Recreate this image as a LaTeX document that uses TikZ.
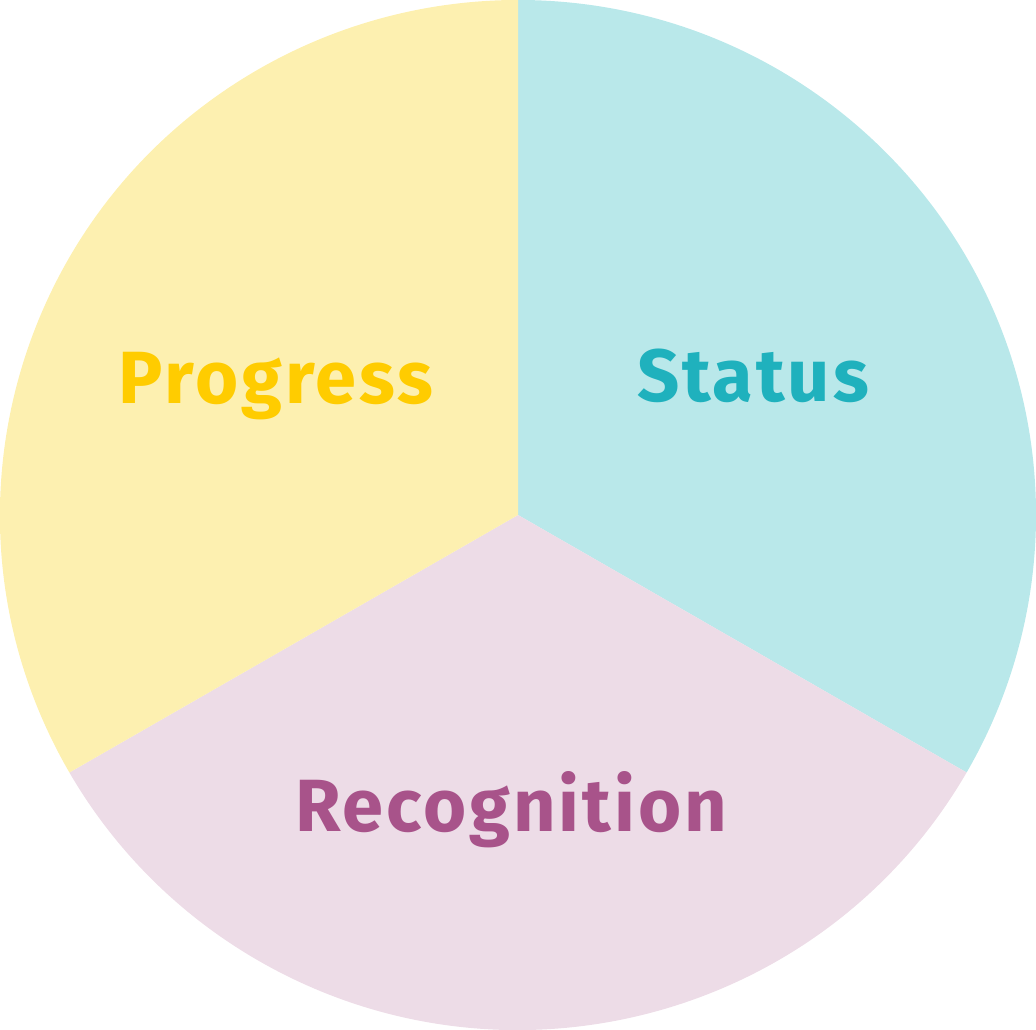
\documentclass[tikz,border=0pt]{standalone}
\usepackage{fontspec}
\newfontfamily\lblfont[LetterSpace=4]{Fira Sans}
\definecolor{statusfill}{HTML}{B9E8EA}
\definecolor{statustext}{HTML}{1FB1BD}
\definecolor{progfill}{HTML}{FDF0B0}
\definecolor{progtext}{HTML}{FFCC00}
\definecolor{recfill}{HTML}{EDDCE7}
\definecolor{rectext}{HTML}{A8538A}
\begin{document}
\begin{tikzpicture}[x=1pt,y=1pt,
  lbl/.style={font=\lblfont\bfseries\fontsize{74}{80}\selectfont, inner sep=0pt, anchor=base}]
\useasboundingbox (0,0) rectangle (1036,1030);
\coordinate (c) at (518,515);
\coordinate (top) at (518,1030);
\coordinate (rt) at (966.6,257.5);
\coordinate (lt) at (69.4,257.5);
\fill[statusfill] (c) -- (top) arc[start angle=90, end angle=-30, x radius=518, y radius=515] -- cycle;
\fill[recfill] (c) -- (rt) arc[start angle=-30, end angle=-150, x radius=518, y radius=515] -- cycle;
\fill[progfill] (c) -- (lt) arc[start angle=210, end angle=90, x radius=518, y radius=515] -- cycle;
\node[lbl, text=statustext] (status) at (753,628) {Status};
\node[lbl, text=progtext] (progress) at (276,626) {Progress};
\node[lbl, text=rectext] (recognition) at (511,198) {Recognition};
\end{tikzpicture}
\end{document}
